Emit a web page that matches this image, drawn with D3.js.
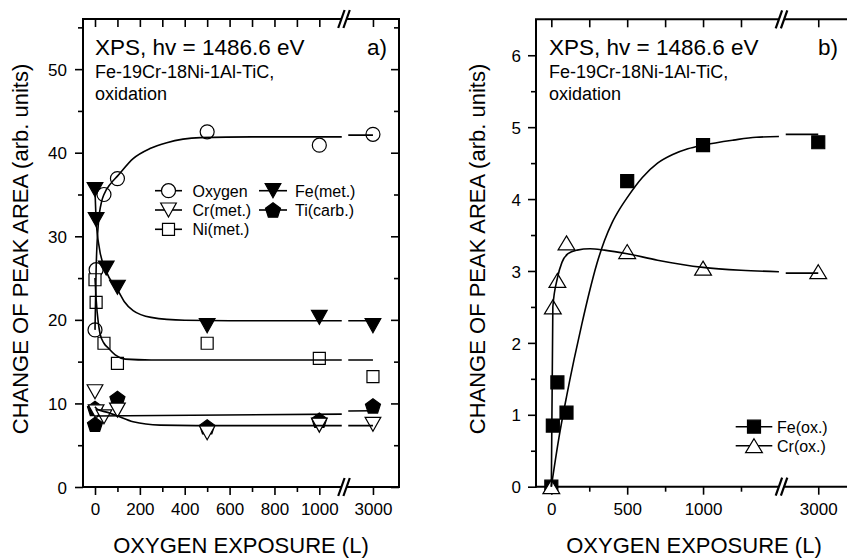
<!DOCTYPE html>
<html><head><meta charset="utf-8">
<script src="https://cdn.jsdelivr.net/npm/d3@7"></script>
<style>
html,body{margin:0;padding:0;background:#fff;}
svg{display:block;font-family:"Liberation Sans",Arial,Helvetica,sans-serif;}
</style></head><body>
<svg id="chart" width="847" height="558"></svg>
<script>
// ---------- panel a): metallic components, oxygen ----------
// measured points [exposure (L), peak-area change]
const oxygenPts = [[0,18.8],[5,26],[40,35],[100,36.9],[500,42.5],[1000,40.9],[3000,42.2]];
const crMetPts  = [[0,11.4],[5,9.0],[40,8.4],[100,9.2],[500,6.5],[1000,7.4],[3000,7.5]];
const niMetPts  = [[0,24.8],[5,22.1],[40,17.2],[100,14.8],[500,17.2],[1000,15.4],[3000,13.2]];
const feMetPts  = [[0,35.6],[5,32.0],[50,26.2],[100,23.9],[500,19.3],[1000,20.3],[3000,19.3]];
const tiCarbPts = [[0,9.4],[0,7.5],[100,10.6],[500,7.2],[1000,8.0],[3000,9.7]];
// fitted trend lines (null = interruption at the axis break)
const oxygenFit = [[0,18.8],[5,26],[15,31.5],[30,34.2],[40,35],[70,36.3],[100,37.2],[170,39.3],[245,40.5],[320,41.2],[470,41.8],[700,41.9],[1100,41.9],null,[2890,42.1],[3000,42.1]];
const crMetFit  = [[0,9.6],[10,9.3],[60,8.9],[100,8.5],[170,7.8],[290,7.4],[450,7.35],[1100,7.35],null,[2890,7.35],[3000,7.35]];
const niMetFit  = [[0,25],[5,22.5],[15,19.6],[22,18.4],[40,17.2],[60,16.6],[90,15.8],[135,15.3],[250,15.2],[1100,15.2],null,[2890,15.2],[3000,15.2]];
const feMetFit  = [[0,35.6],[5,32],[20,28.5],[50,25.8],[80,24.3],[100,23.6],[130,22.2],[170,21.1],[250,20.3],[400,19.95],[600,19.9],[1100,19.9],null,[2890,19.9],[3000,19.9]];
const tiCarbFit = [[0,8.5],[1100,8.72],null,[2890,9.1],[3000,9.12]];

// ---------- panel b): oxide components ----------
const feOxPts = [[0,0],[10,0.85],[40,1.45],[100,1.03],[500,4.25],[1000,4.75],[3000,4.79]];
const crOxPts = [[0,0],[10,2.5],[40,2.87],[100,3.39],[500,3.27],[1000,3.04],[3000,2.99]];
const feOxFit = [[0,0],[50,0.68],[100,1.25],[150,1.77],[200,2.25],[250,2.7],[300,3.1],[350,3.42],[400,3.67],[450,3.86],[500,4.02],[600,4.3],[700,4.5],[800,4.62],[900,4.7],[1000,4.75],[1200,4.82],[1350,4.86],[1500,4.87],null,[2785,4.9],[3000,4.9]];
const crOxFit = [[0,0],[10,2.5],[40,2.9],[70,3.12],[110,3.24],[170,3.29],[255,3.31],[350,3.29],[500,3.24],[700,3.15],[1000,3.05],[1250,3.01],[1500,2.99],null,[2785,2.97],[3000,2.97]];

// axis ticks
const aXMajor = [0,200,400,600,800,1000,3000];
const aXMinor = [100,300,500,700,900];
const aYMajor = [0,10,20,30,40,50];
const aYMinor = [5,15,25,35,45,55];
const bXMajor = [0,500,1000,3000];
const bXMinor = [250,750,1250];
const bYMajor = [0,1,2,3,4,5,6];
const bYMinor = [0.5,1.5,2.5,3.5,4.5,5.5];

// labels
const yTitle = "CHANGE OF PEAK AREA (arb. units)";
const xTitle = "OXYGEN EXPOSURE (L)";
const headline = "XPS, hv = 1486.6 eV";
const sampleLine1 = "Fe-19Cr-18Ni-1Al-TiC,";
const sampleLine2 = "oxidation";

const svg = d3.select("#chart");
const FONT = "'Liberation Sans', Arial, Helvetica, sans-serif";

// ---------- marker shapes ----------
function shapePath(kind, s) {
  const p = d3.path();
  if (kind === "circle") { p.moveTo(s, 0); p.arc(0, 0, s, 0, 2 * Math.PI); p.closePath(); return p.toString(); }
  if (kind === "square") { return `M${-s/2},${-s/2}h${s}v${s}h${-s}Z`; }
  if (kind === "triUp")   { const w = s * 1.2, h = s; return `M0,${-h/2}L${w/2},${h/2}L${-w/2},${h/2}Z`; }
  if (kind === "triDown") { const w = s * 1.12, h = s; return `M0,${h/2}L${w/2},${-h/2}L${-w/2},${-h/2}Z`; }
  if (kind === "pent") {
    const R = s / 1.9, dy = 0.095 * R;
    const pts = d3.range(5).map(k => { const a = -Math.PI/2 + k * 2 * Math.PI / 5; return [R * Math.cos(a), R * Math.sin(a) + dy]; });
    return "M" + pts.map(q => q.join(",")).join("L") + "Z";
  }
}

// ---------- panel builder ----------
function buildPanel(cfg) {
  const g = svg.append("g");
  const x = d3.scaleLinear().domain(cfg.xDomain).range(cfg.xRange);
  const y = d3.scaleLinear().domain(cfg.yDomain).range([cfg.bottom, cfg.top]);
  const L = cfg.xRange[0], R = cfg.xRange[3], T = cfg.top, B = cfg.bottom;
  const bx = cfg.xRange[1];

  // ticks
  const ax = g.append("g").attr("font-family", FONT);
  function axisGroup(axis, tr) {
    const a = ax.append("g").attr("transform", tr).call(axis);
    a.select(".domain").remove();
    a.selectAll(".tick line").attr("stroke", "#000").attr("stroke-width", 1.6);
    a.selectAll(".tick text").attr("fill", "#000").attr("font-size", 17).attr("font-family", FONT);
    return a;
  }
  axisGroup(d3.axisBottom(x).tickValues(cfg.xMajor).tickSize(8).tickPadding(8).tickFormat(d3.format("d")), `translate(0,${B})`);
  axisGroup(d3.axisBottom(x).tickValues(cfg.xMinor).tickSize(5).tickFormat(""), `translate(0,${B})`);
  axisGroup(d3.axisTop(x).tickValues(cfg.xMajor.concat(cfg.xMinor)).tickSize(-8).tickFormat(""), `translate(0,${T})`);
  axisGroup(d3.axisLeft(y).tickValues(cfg.yMajor).tickSize(8).tickPadding(cfg.yPad).tickFormat(d3.format("d")), `translate(${L},0)`)
    .selectAll(".tick text").attr("dy", "0.36em");
  axisGroup(d3.axisLeft(y).tickValues(cfg.yMinor).tickSize(5).tickFormat(""), `translate(${L},0)`);
  if (cfg.rightFrame) {
    axisGroup(d3.axisRight(y).tickValues(cfg.yMajor).tickSize(-8).tickFormat(""), `translate(${R},0)`);
    axisGroup(d3.axisRight(y).tickValues(cfg.yMinor).tickSize(-5).tickFormat(""), `translate(${R},0)`);
  }

  // frame with the axis break
  const frame = g.append("g").attr("stroke", "#000").attr("stroke-width", 2).attr("fill", "none");
  const gap = 2.6;
  [T, B].forEach(yy => {
    frame.append("line").attr("x1", L - 1).attr("x2", bx - gap).attr("y1", yy).attr("y2", yy);
    frame.append("line").attr("x1", bx + gap).attr("x2", R + (cfg.rightFrame ? 1 : 0)).attr("y1", yy).attr("y2", yy);
    [-gap, gap].forEach(o => {
      frame.append("line").attr("stroke-width", 2.2)
        .attr("x1", bx + o - 3.2).attr("y1", yy + 9).attr("x2", bx + o + 3.2).attr("y2", yy - 9);
    });
  });
  frame.append("line").attr("x1", L).attr("x2", L).attr("y1", T).attr("y2", B + 1);
  if (cfg.rightFrame) frame.append("line").attr("x1", R).attr("x2", R).attr("y1", T).attr("y2", B + 1);

  // data: markers first, fitted lines on top
  const line = d3.line().defined(d => d !== null).x(d => x(d[0])).y(d => y(d[1])).curve(d3.curveMonotoneX);
  cfg.series.forEach(s => {
    g.append("g").selectAll("path").data(s.pts).join("path")
      .attr("d", shapePath(s.shape, s.size))
      .attr("transform", d => `translate(${x(d[0])},${y(d[1])})`)
      .attr("fill", s.filled ? "#000" : "#fff")
      .attr("stroke", "#000").attr("stroke-width", 1.2);
  });
  cfg.series.forEach(s => {
    g.append("path").datum(s.fit).attr("d", line)
      .attr("fill", "none").attr("stroke", "#000").attr("stroke-width", 1.6);
  });

  // legend
  const lg = g.append("g").attr("font-family", FONT).attr("font-size", 16);
  cfg.legend.forEach(e => {
    const s = cfg.series.find(q => q.name === e.name);
    lg.append("line").attr("x1", e.x1).attr("x2", e.x2).attr("y1", e.y).attr("y2", e.y)
      .attr("stroke", "#000").attr("stroke-width", 1.6);
    lg.append("path").attr("d", shapePath(s.shape, s.size))
      .attr("transform", `translate(${(e.x1 + e.x2) / 2},${e.y})`)
      .attr("fill", s.filled ? "#000" : "#fff").attr("stroke", "#000").attr("stroke-width", 1.2);
    lg.append("text").attr("x", e.tx).attr("y", e.y + 6).text(e.name);
  });

  // annotations
  const tg = g.append("g").attr("font-family", FONT).attr("fill", "#000");
  tg.append("text").attr("x", cfg.textX).attr("y", 55).attr("font-size", 22.5).text(headline);
  tg.append("text").attr("x", cfg.tagX).attr("y", 55).attr("font-size", 22.5).attr("text-anchor", "end").text(cfg.tag);
  tg.append("text").attr("x", cfg.textX).attr("y", 78).attr("font-size", 18).text(sampleLine1);
  tg.append("text").attr("x", cfg.textX).attr("y", 100).attr("font-size", 18).text(sampleLine2);
  tg.append("text").attr("font-size", 22).attr("text-anchor", "middle")
    .attr("transform", `translate(${cfg.yTitleX},249) rotate(-90)`).text(yTitle);
  tg.append("text").attr("font-size", 22).attr("text-anchor", "middle")
    .attr("x", cfg.xTitleX).attr("y", 553).text(xTitle);
}

buildPanel({
  xDomain: [-53.5, 1110, 2871, 3116], xRange: [83, 344, 344, 399],
  yDomain: [0, 56], top: 19, bottom: 487, yPad: 8, rightFrame: true,
  xMajor: aXMajor, xMinor: aXMinor, yMajor: aYMajor, yMinor: aYMinor,
  series: [
    { name: "Oxygen",    pts: oxygenPts, fit: oxygenFit, shape: "circle",  size: 7,  filled: false },
    { name: "Ni(met.)",  pts: niMetPts,  fit: niMetFit,  shape: "square",  size: 12, filled: false },
    { name: "Ti(carb.)", pts: tiCarbPts, fit: tiCarbFit, shape: "pent",    size: 15, filled: true },
    { name: "Cr(met.)",  pts: crMetPts,  fit: crMetFit,  shape: "triDown", size: 14, filled: false },
    { name: "Fe(met.)",  pts: feMetPts,  fit: feMetFit,  shape: "triDown", size: 14, filled: true }
  ],
  legend: [
    { name: "Oxygen",    x1: 155, x2: 182, y: 190.7, tx: 192.5 },
    { name: "Cr(met.)",  x1: 155, x2: 182, y: 210,   tx: 192.5 },
    { name: "Ni(met.)",  x1: 155, x2: 182, y: 229.3, tx: 192.5 },
    { name: "Fe(met.)",  x1: 259, x2: 287, y: 190.7, tx: 295 },
    { name: "Ti(carb.)", x1: 259, x2: 287, y: 210,   tx: 295 }
  ],
  textX: 95, tag: "a)", tagX: 387, yTitleX: 28.3, xTitleX: 241
});

buildPanel({
  xDomain: [-101, 1517, 2757, 3243], xRange: [536, 781.5, 781.5, 855],
  yDomain: [0, 6.5], top: 19.3, bottom: 486.7, yPad: 7, rightFrame: false,
  xMajor: bXMajor, xMinor: bXMinor, yMajor: bYMajor, yMinor: bYMinor,
  series: [
    { name: "Fe(ox.)", pts: feOxPts, fit: feOxFit, shape: "square", size: 13, filled: true },
    { name: "Cr(ox.)", pts: crOxPts, fit: crOxFit, shape: "triUp",  size: 14, filled: false }
  ],
  legend: [
    { name: "Fe(ox.)", x1: 735.7, x2: 772.3, y: 426.7, tx: 777 },
    { name: "Cr(ox.)", x1: 735.7, x2: 772.3, y: 445.7, tx: 777 }
  ],
  textX: 549, tag: "b)", tagX: 838, yTitleX: 484.7, xTitleX: 694
});
</script>
</body></html>
